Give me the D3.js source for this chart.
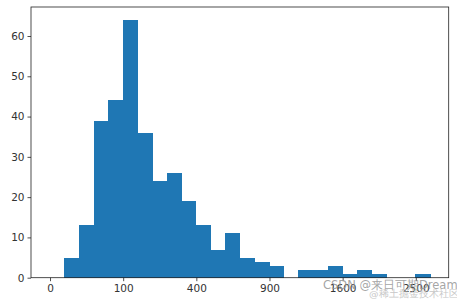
<!DOCTYPE html>
<html>
<head>
<meta charset="utf-8">
<script src="https://cdn.jsdelivr.net/npm/d3@7"></script>
<style>
  body { margin: 0; background: #fff; }
  svg { display: block; }
  text { font-family: "DejaVu Sans", sans-serif; }
</style>
</head>
<body>
<svg id="chart" width="457" height="301"></svg>
<script>
// hranice binu (hodnoty dat, osa x je odmocninova)
const binEdges = [3.8, 15.6, 35.4, 63.2, 99.0, 142.8, 194.6, 254.4, 322.2, 398.0,
    481.8, 573.6, 673.4, 781.2, 897.0, 1020.8, 1152.6, 1292.4, 1440.2, 1596.0,
    1759.8, 1931.6, 2111.4, 2299.2, 2495.0, 2698.8];
// pocty v jednotlivych binech
const counts = [5, 13, 39, 44, 64, 36, 24, 26, 19, 13, 7, 11, 5, 4, 3, 0,
    2, 2, 3, 1, 2, 1, 0, 0, 1];
// popisky os
const xTicks = [0, 100, 400, 900, 1600, 2500];
const yTicks = [0, 10, 20, 30, 40, 50, 60];

const svg = d3.select("#chart");
const plotL = 31, plotR = 448.7, plotT = 7, plotB = 277.7;

// odmocninove skalovani, zaporny okraj vlevo jako v matplotlibu
const x = d3.scalePow().exponent(0.5)
    .domain([-6.76, 2970])
    .range([plotL, plotR]);
const y = d3.scaleLinear()
    .domain([0, 67.2])
    .range([plotB, plotT]);

const bins = counts.map((c, i) => ({x0: binEdges[i], x1: binEdges[i + 1], n: c}));

svg.append("g")
    .attr("shape-rendering", "crispEdges")
    .selectAll("rect")
    .data(bins.filter(d => d.n > 0))
    .join("rect")
    .attr("x", d => x(d.x0))
    .attr("width", d => x(d.x1) - x(d.x0) + 0.5)
    .attr("y", d => y(d.n))
    .attr("height", d => y(0) - y(d.n))
    .attr("fill", "#1f77b4");

// osa x
const gx = svg.append("g")
    .attr("transform", `translate(0,${plotB})`)
    .call(d3.axisBottom(x).tickValues(xTicks).tickSize(3.5).tickPadding(3).tickFormat(d3.format("d")));
// osa y
const gy = svg.append("g")
    .attr("transform", `translate(${plotL},0)`)
    .call(d3.axisLeft(y).tickValues(yTicks).tickSize(3.5).tickPadding(3));

[gx, gy].forEach(g => {
    g.select(".domain").remove();
    g.selectAll("line").attr("stroke", "#222").attr("stroke-width", 0.8);
    g.selectAll("text").attr("font-size", 10.5).attr("fill", "#333")
        .style("font-family", "'DejaVu Sans', sans-serif");
});

// ramecek
svg.append("rect")
    .attr("x", plotL).attr("y", plotT)
    .attr("width", plotR - plotL).attr("height", plotB - plotT)
    .attr("fill", "none")
    .attr("stroke", "#222")
    .attr("stroke-width", 0.8);

// vodoznak (v originale prekryva popisky osy x)
svg.append("text")
    .attr("x", 323).attr("y", 289)
    .attr("font-size", 11.5)
    .attr("fill", "#9a9a9a")
    .attr("fill-opacity", 0.9)
    .text("CSDN @来日可期Dream");
svg.append("text")
    .attr("x", 369).attr("y", 297)
    .attr("font-size", 9.5)
    .attr("fill", "#c8c8c8")
    .text("@稀土掘金技术社区");
</script>
</body>
</html>
